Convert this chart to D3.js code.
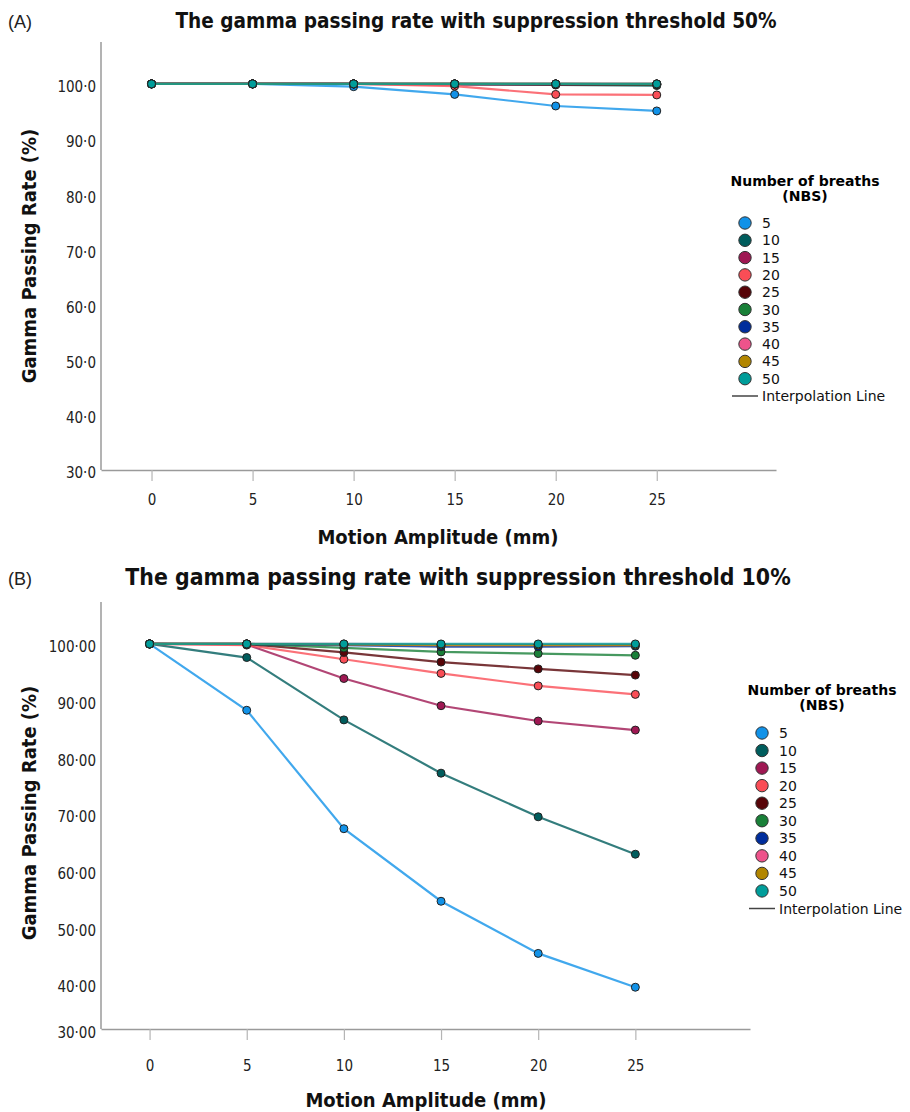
<!DOCTYPE html>
<html>
<head>
<meta charset="utf-8">
<script src="https://cdn.jsdelivr.net/npm/d3@7"></script>
<style>
  body { margin: 0; background: #fff; }
  svg { display: block; }
</style>
</head>
<body>
<div id="chart"></div>
<script>
// data
const amplitudes = [0, 5, 10, 15, 20, 25];
const nbsLevels = [5, 10, 15, 20, 25, 30, 35, 40, 45, 50];
const nbsColors = ["#1192e8", "#005d5d", "#9f1853", "#fa4d56", "#570408",
                   "#198038", "#002d9c", "#ee538b", "#b28600", "#009d9a"];

// (A) suppression threshold 50%
const gprA = [
  [100, 100, 99.5, 98.1, 96.0, 95.1],
  [100, 100, 100, 99.9, 99.8, 99.7],
  [100, 100, 100, 99.9, 99.9, 99.9],
  [100, 100, 100, 99.6, 98.1, 98.0],
  [100, 100, 100, 100, 99.9, 99.9],
  [100, 100, 100, 100, 100, 99.9],
  [100, 100, 100, 100, 100, 100],
  [100, 100, 100, 100, 100, 100],
  [100, 100, 100, 100, 100, 100],
  [100, 100, 100, 100, 100, 100]
];

// (B) suppression threshold 10%
const gprB = [
  [100, 88.3, 67.4, 54.6, 45.4, 39.3],
  [100, 97.6, 86.6, 77.2, 69.5, 62.9],
  [100, 99.9, 93.9, 89.1, 86.4, 84.8],
  [100, 99.8, 97.3, 94.8, 92.6, 91.1],
  [100, 100, 98.5, 96.8, 95.6, 94.5],
  [100, 100, 99.3, 98.6, 98.3, 98.0],
  [100, 100, 99.8, 99.5, 99.5, 99.6],
  [100, 100, 100, 99.9, 99.9, 99.9],
  [100, 100, 99.9, 99.8, 99.8, 99.8],
  [100, 100, 100, 100, 100, 100]
];

const yTicks = [30, 40, 50, 60, 70, 80, 90, 100];
const xTicks = [0, 5, 10, 15, 20, 25];

const W = 910, H = 1112;
const svg = d3.select("#chart").append("svg")
  .attr("width", W).attr("height", H);

const panels = [
  {
    tag: "(A)", title: "The gamma passing rate with suppression threshold 50%",
    data: gprA, fmt: ".1f",
    left: 101, right: 776, top: 42, bottom: 470,
    yDomain: [30, 107.6], yRange: [470, 42],
    titleY: 28, titleX: 476, titleSize: 20.6,
    xLabelY: 500, xTitleY: 544, xTitleX: 438, yTitleY: 256,
    legendX: 745, legendTitleY: 181, legendY0: 223, legendStep: 17.3
  },
  {
    tag: "(B)", title: "The gamma passing rate with suppression threshold 10%",
    data: gprB, fmt: ".2f",
    left: 101, right: 750, top: 602, bottom: 1029,
    yDomain: [30, 40, 107.4], yRange: [1030, 984, 602],
    titleY: 585, titleX: 458, titleSize: 22.8,
    xLabelY: 1066, xTitleY: 1107, xTitleX: 426, yTitleY: 813,
    legendX: 762, legendTitleY: 690, legendY0: 733, legendStep: 17.55
  }
];

panels.forEach(p => drawPanel(p));

function drawPanel(p) {
  const g = svg.append("g");

  const x = d3.scaleLinear().domain([-2.5, 30.9]).range([p.left, p.right]);
  const y = d3.scaleLinear().domain(p.yDomain).range(p.yRange);
  const fmt = v => d3.format(p.fmt)(v).replace(".", "·");

  // y axis
  const yAx = g.append("g")
    .attr("transform", `translate(${p.left},0)`)
    .call(d3.axisLeft(y).tickValues(yTicks).tickFormat(fmt).tickSize(0).tickPadding(5));
  yAx.select(".domain").attr("stroke", "#9a9a9a").attr("stroke-width", 1.5)
    .attr("d", `M0,${p.top}V${p.bottom}`);
  yAx.selectAll("text").attr("y", 3)
    .attr("font-family", "DejaVu Sans Condensed").attr("font-size", 15).attr("fill", "#222");

  // x axis
  const xAx = g.append("g")
    .attr("transform", `translate(0,${p.bottom})`)
    .call(d3.axisBottom(x).tickValues(xTicks).tickSize(11).tickSizeOuter(0));
  xAx.select(".domain").attr("stroke", "#9a9a9a").attr("stroke-width", 1.5);
  xAx.selectAll(".tick line").attr("stroke", "#b5b5b5").attr("stroke-width", 1.2);
  xAx.selectAll("text")
    .attr("y", p.xLabelY - p.bottom).attr("dy", "0.35em")
    .attr("font-family", "DejaVu Sans Condensed").attr("font-size", 15).attr("fill", "#222");

  // titles
  g.append("text").attr("x", 8).attr("y", p.titleY)
    .attr("font-family", "Liberation Sans").attr("font-size", 18).attr("fill", "#222")
    .text(p.tag);
  g.append("text").attr("x", p.titleX).attr("y", p.titleY)
    .attr("text-anchor", "middle")
    .attr("font-family", "DejaVu Sans Condensed").attr("font-weight", "bold")
    .attr("font-size", p.titleSize).attr("fill", "#111")
    .text(p.title);
  g.append("text").attr("x", p.xTitleX).attr("y", p.xTitleY)
    .attr("text-anchor", "middle")
    .attr("font-family", "DejaVu Sans Condensed").attr("font-weight", "bold")
    .attr("font-size", 20).attr("fill", "#111")
    .text("Motion Amplitude (mm)");
  g.append("text")
    .attr("transform", `translate(36,${p.yTitleY}) rotate(-90)`)
    .attr("text-anchor", "middle")
    .attr("font-family", "DejaVu Sans Condensed").attr("font-weight", "bold")
    .attr("font-size", 20).attr("fill", "#111")
    .text("Gamma Passing Rate (%)");

  // lines, then markers
  const line = d3.line().x((d, i) => x(amplitudes[i])).y(d => y(d));
  g.append("g").selectAll("path")
    .data(p.data)
    .join("path")
    .attr("d", line)
    .attr("fill", "none")
    .attr("stroke", (d, i) => nbsColors[i])
    .attr("stroke-opacity", 0.8)
    .attr("stroke-width", 2.2);

  p.data.forEach((series, si) => {
    g.append("g").selectAll("circle")
      .data(series)
      .join("circle")
      .attr("cx", (d, i) => x(amplitudes[i]))
      .attr("cy", d => y(d))
      .attr("r", 4)
      .attr("fill", nbsColors[si])
      .attr("stroke", "#222")
      .attr("stroke-width", 1);
  });

  // legend
  const lg = g.append("g");
  const cx = p.legendX;
  lg.append("text").attr("x", cx + 60).attr("y", p.legendTitleY + 5)
    .attr("text-anchor", "middle")
    .attr("font-family", "DejaVu Sans").attr("font-weight", "bold").attr("font-size", 14)
    .text("Number of breaths");
  lg.append("text").attr("x", cx + 60).attr("y", p.legendTitleY + 20)
    .attr("text-anchor", "middle")
    .attr("font-family", "DejaVu Sans").attr("font-weight", "bold").attr("font-size", 14)
    .text("(NBS)");
  const items = lg.selectAll("g.item")
    .data(nbsLevels)
    .join("g")
    .attr("class", "item")
    .attr("transform", (d, i) => `translate(${cx},${p.legendY0 + i * p.legendStep})`);
  items.append("circle").attr("r", 6.2)
    .attr("fill", (d, i) => nbsColors[i])
    .attr("stroke", "#333").attr("stroke-width", 1);
  items.append("text").attr("x", 17).attr("dy", "0.36em")
    .attr("font-family", "DejaVu Sans").attr("font-size", 14).attr("fill", "#111")
    .text(d => d);
  const iy = p.legendY0 + nbsLevels.length * p.legendStep;
  lg.append("line")
    .attr("x1", cx - 13).attr("x2", cx + 13)
    .attr("y1", iy).attr("y2", iy)
    .attr("stroke", "#444").attr("stroke-width", 1.5);
  lg.append("text").attr("x", cx + 17).attr("y", iy).attr("dy", "0.36em")
    .attr("font-family", "DejaVu Sans").attr("font-size", 14).attr("fill", "#111")
    .text("Interpolation Line");
}
</script>
</body>
</html>
